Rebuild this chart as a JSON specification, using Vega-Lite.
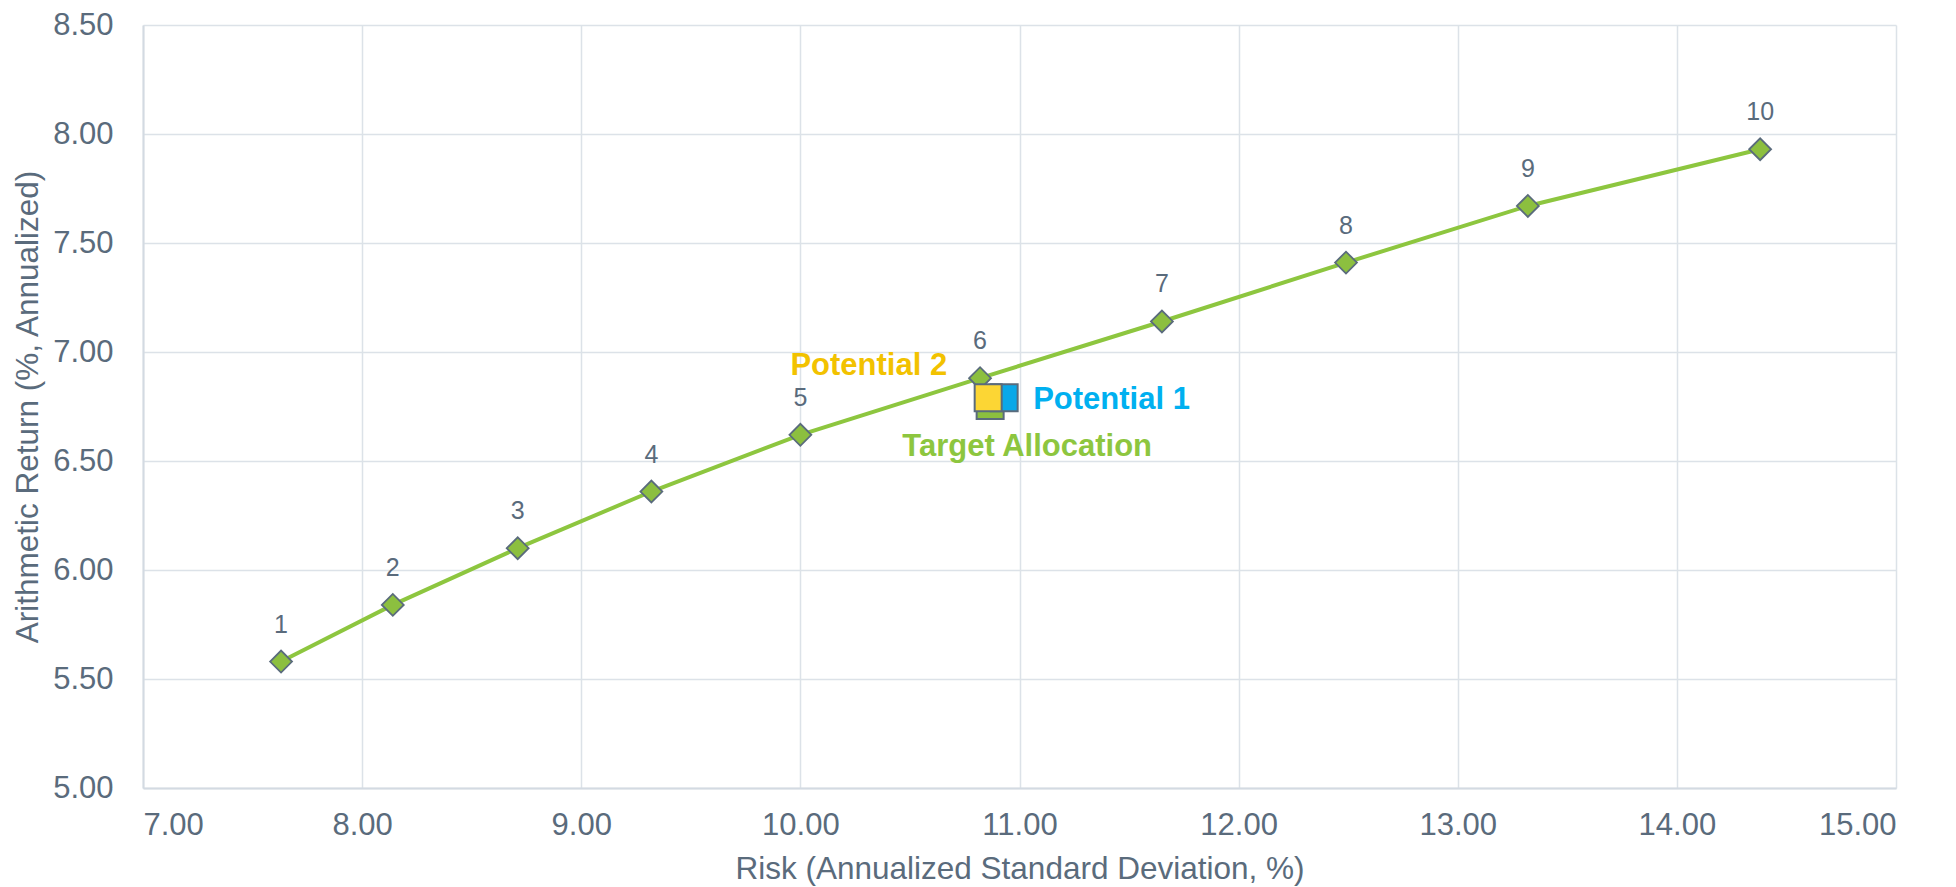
{
  "$schema": "https://vega.github.io/schema/vega-lite/v6.json",
  "autosize": {"type": "none"},
  "width": 1753,
  "height": 763,
  "padding": {"left": 143, "top": 25, "right": 60, "bottom": 99},
  "background": "white",
  "config": {
    "font": "Liberation Sans",
    "view": {"stroke": null},
    "axis": {
      "labelFont": "Liberation Sans",
      "titleFont": "Liberation Sans",
      "labelColor": "#5a6b7c",
      "titleColor": "#5a6b7c",
      "labelFontSize": 31,
      "titleFontSize": 31.5,
      "titleFontWeight": "normal",
      "gridColor": "#dce2e8",
      "gridWidth": 1.5,
      "domainColor": "#d3dae2",
      "domainWidth": 2,
      "ticks": false
    }
  },
  "datasets": {
    "frontier": [
      {"portfolio": "1", "risk": 7.63, "ret": 5.58},
      {"portfolio": "2", "risk": 8.14, "ret": 5.84},
      {"portfolio": "3", "risk": 8.71, "ret": 6.10},
      {"portfolio": "4", "risk": 9.32, "ret": 6.36},
      {"portfolio": "5", "risk": 10.00, "ret": 6.62},
      {"portfolio": "6", "risk": 10.82, "ret": 6.88},
      {"portfolio": "7", "risk": 11.65, "ret": 7.14},
      {"portfolio": "8", "risk": 12.49, "ret": 7.41},
      {"portfolio": "9", "risk": 13.32, "ret": 7.67},
      {"portfolio": "10", "risk": 14.38, "ret": 7.93}
    ],
    "allocations": [
      {"name": "Target Allocation", "risk": 10.866, "ret": 6.755, "order": 1},
      {"name": "Potential 1", "risk": 10.93, "ret": 6.79, "order": 2},
      {"name": "Potential 2", "risk": 10.857, "ret": 6.79, "order": 3}
    ]
  },
  "layer": [
    {
      "data": {"name": "frontier"},
      "mark": {"type": "line", "color": "#8dc63f", "strokeWidth": 4},
      "encoding": {
        "x": {
          "field": "risk", "type": "quantitative",
          "scale": {"domain": [7, 15], "nice": false, "zero": false},
          "axis": {"values": [7, 8, 9, 10, 11, 12, 13, 14, 15], "format": ".2f", "title": "Risk (Annualized Standard Deviation, %)", "labelPadding": 22, "titlePadding": 13}
        },
        "y": {
          "field": "ret", "type": "quantitative",
          "scale": {"domain": [5, 8.5], "nice": false, "zero": false},
          "axis": {"values": [5, 5.5, 6, 6.5, 7, 7.5, 8, 8.5], "format": ".2f", "title": "Arithmetic Return (%, Annualized)", "labelPadding": 30, "titlePadding": 8}
        }
      }
    },
    {
      "data": {"name": "frontier"},
      "mark": {"type": "point", "shape": "diamond", "filled": true, "size": 480, "fill": "#8cbf3f", "stroke": "#5a6b7c", "strokeWidth": 1.8, "opacity": 1},
      "encoding": {
        "x": {"field": "risk", "type": "quantitative"},
        "y": {"field": "ret", "type": "quantitative"}
      }
    },
    {
      "data": {"name": "frontier"},
      "mark": {"type": "text", "dy": -37, "fontSize": 25, "color": "#5a6b7c", "baseline": "middle", "align": "center"},
      "encoding": {
        "x": {"field": "risk", "type": "quantitative"},
        "y": {"field": "ret", "type": "quantitative"},
        "text": {"field": "portfolio"}
      }
    },
    {
      "data": {"name": "allocations"},
      "mark": {"type": "square", "size": 729, "stroke": "#5a6b7c", "strokeWidth": 2, "opacity": 1},
      "encoding": {
        "x": {"field": "risk", "type": "quantitative"},
        "y": {"field": "ret", "type": "quantitative"},
        "order": {"field": "order"},
        "fill": {
          "field": "name", "type": "nominal",
          "scale": {"domain": ["Target Allocation", "Potential 1", "Potential 2"], "range": ["#8cbf3f", "#0aa8e8", "#fcd634"]},
          "legend": null
        }
      }
    },
    {
      "data": {"name": "allocations"},
      "transform": [{"filter": "datum.name === 'Potential 2'"}],
      "mark": {"type": "text", "align": "right", "baseline": "middle", "dx": -41, "dy": -32, "fontSize": 31, "fontWeight": "bold", "color": "#f2c200"},
      "encoding": {
        "x": {"field": "risk", "type": "quantitative"},
        "y": {"field": "ret", "type": "quantitative"},
        "text": {"field": "name"}
      }
    },
    {
      "data": {"name": "allocations"},
      "transform": [{"filter": "datum.name === 'Potential 1'"}],
      "mark": {"type": "text", "align": "left", "baseline": "middle", "dx": 29, "dy": 2, "fontSize": 31, "fontWeight": "bold", "color": "#00b0f0"},
      "encoding": {
        "x": {"field": "risk", "type": "quantitative"},
        "y": {"field": "ret", "type": "quantitative"},
        "text": {"field": "name"}
      }
    },
    {
      "data": {"name": "allocations"},
      "transform": [{"filter": "datum.name === 'Target Allocation'"}],
      "mark": {"type": "text", "align": "center", "baseline": "middle", "dx": 37, "dy": 42, "fontSize": 31, "fontWeight": "bold", "color": "#8dc63f"},
      "encoding": {
        "x": {"field": "risk", "type": "quantitative"},
        "y": {"field": "ret", "type": "quantitative"},
        "text": {"field": "name"}
      }
    }
  ]
}
